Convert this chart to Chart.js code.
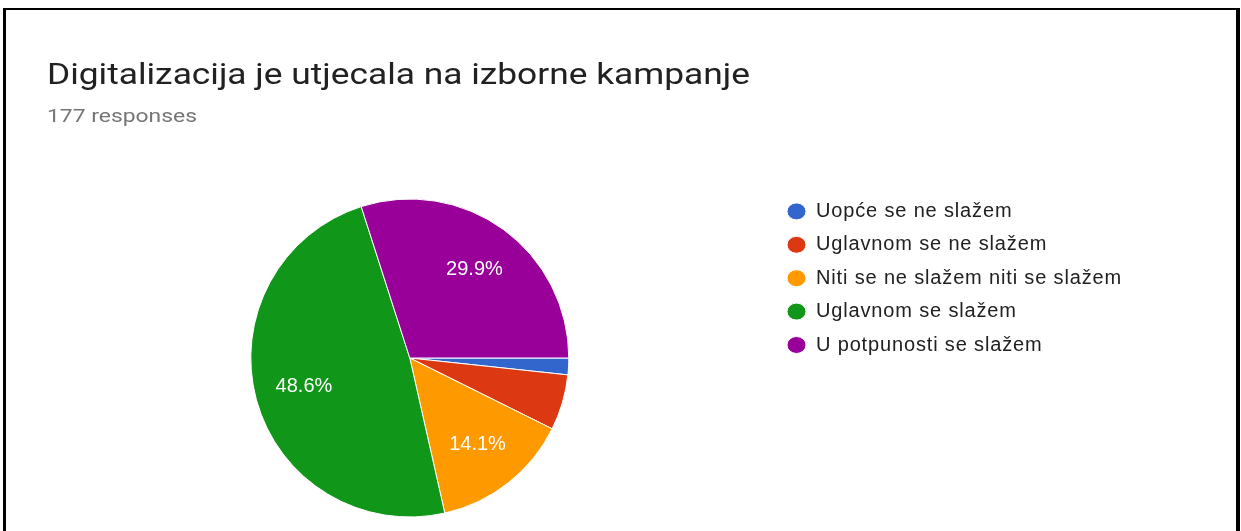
<!DOCTYPE html>
<html>
<head>
<meta charset="utf-8">
<script src="https://cdn.jsdelivr.net/npm/chart.js@4"></script>
<style>
  html, body { margin: 0; padding: 0; background: #fff; }
  body { width: 1241px; height: 531px; position: relative; overflow: hidden; }
  #frame {
    position: absolute; left: 3px; top: 8px; width: 1230px; height: 600px;
    border-left: 3px solid #000; border-top: 2px solid #000; border-right: 4px solid #000;
  }
  #chart { position: absolute; left: 0; top: 0; }
  .head { position: absolute; left: 47px; margin: 0; white-space: nowrap; transform-origin: left top; font-family: Roboto, sans-serif; font-weight: 400; }
  #title { top: 60px; font-size: 29px; line-height: 29px; color: #212121; }
  #sub { top: 107px; font-size: 18px; line-height: 18px; color: #757575; }
</style>
</head>
<body>
<div id="frame"></div>
<canvas id="chart" width="1241" height="531"></canvas>
<h1 class="head" id="title">Digitalizacija je utjecala na izborne kampanje</h1>
<p class="head" id="sub">177 responses</p>
<script>
// odgovori (broj ispitanika po kategoriji)
const labels = [
  'Uopće se ne slažem',
  'Uglavnom se ne slažem',
  'Niti se ne slažem niti se slažem',
  'Uglavnom se slažem',
  'U potpunosti se slažem'
];
const answers = [3, 10, 25, 86, 53];
const colors = ['#3366cc', '#dc3912', '#ff9900', '#109618', '#990099'];

const legendFont = '20px "Liberation Sans", Arial, sans-serif';

// naslovi su u referenci razvučeni vodoravno, pa ih skaliramo na izmjerenu širinu
function stretch(id, target) {
  const el = document.getElementById(id);
  const w = el.getBoundingClientRect().width;
  el.style.transform = 'scaleX(' + (target / w) + ')';
}
stretch('title', 703);
stretch('sub', 150);

// razmak slova legende tako da najduža stavka bude ~306px
const probe = document.createElement('canvas').getContext('2d');
probe.font = legendFont;
const longest = labels.reduce((a, b) => a.length > b.length ? a : b);
const spacing = (306 - probe.measureText(longest).width) / longest.length;

const legendSpacing = {
  id: 'legendSpacing',
  beforeLayout(chart) { chart.ctx.letterSpacing = spacing + 'px'; },
  beforeDraw(chart) { chart.ctx.letterSpacing = spacing + 'px'; }
};

// postoci unutar kriški (samo za veće kriške)
const sliceLabels = {
  id: 'sliceLabels',
  afterDatasetsDraw(chart) {
    const ctx = chart.ctx;
    const meta = chart.getDatasetMeta(0);
    const total = answers.reduce((a, b) => a + b, 0);
    ctx.save();
    ctx.letterSpacing = '0px';
    ctx.font = '20px "Liberation Sans", Arial, sans-serif';
    ctx.fillStyle = '#ffffff';
    ctx.textAlign = 'center';
    ctx.textBaseline = 'middle';
    meta.data.forEach((arc, i) => {
      const pct = answers[i] / total * 100;
      if (pct < 10) return;
      const p = arc.getProps(['x', 'y', 'startAngle', 'endAngle', 'outerRadius'], true);
      const mid = (p.startAngle + p.endAngle) / 2;
      const r = p.outerRadius * 0.69;
      ctx.fillText(pct.toFixed(1) + '%', p.x + Math.cos(mid) * r, p.y + Math.sin(mid) * r);
    });
    ctx.restore();
  }
};

const ctx = document.getElementById('chart').getContext('2d');
new Chart(ctx, {
  type: 'pie',
  data: {
    labels: labels,
    datasets: [{
      data: answers,
      backgroundColor: colors,
      borderColor: '#ffffff',
      borderWidth: 1,
      radius: 159
    }]
  },
  options: {
    responsive: false,
    devicePixelRatio: 1,
    animation: false,
    events: [],
    rotation: 90,
    layout: { padding: { left: 46, right: 109, top: 188, bottom: 3 } },
    plugins: {
      tooltip: { enabled: false },
      legend: {
        position: 'right',
        align: 'start',
        labels: {
          usePointStyle: true,
          pointStyle: 'circle',
          pointStyleWidth: 19,
          boxHeight: 12,
          padding: 13.4,
          color: '#212121',
          font: { family: '"Liberation Sans", Arial, sans-serif', size: 20 }
        }
      }
    }
  },
  plugins: [legendSpacing, sliceLabels]
});
</script>
</body>
</html>
